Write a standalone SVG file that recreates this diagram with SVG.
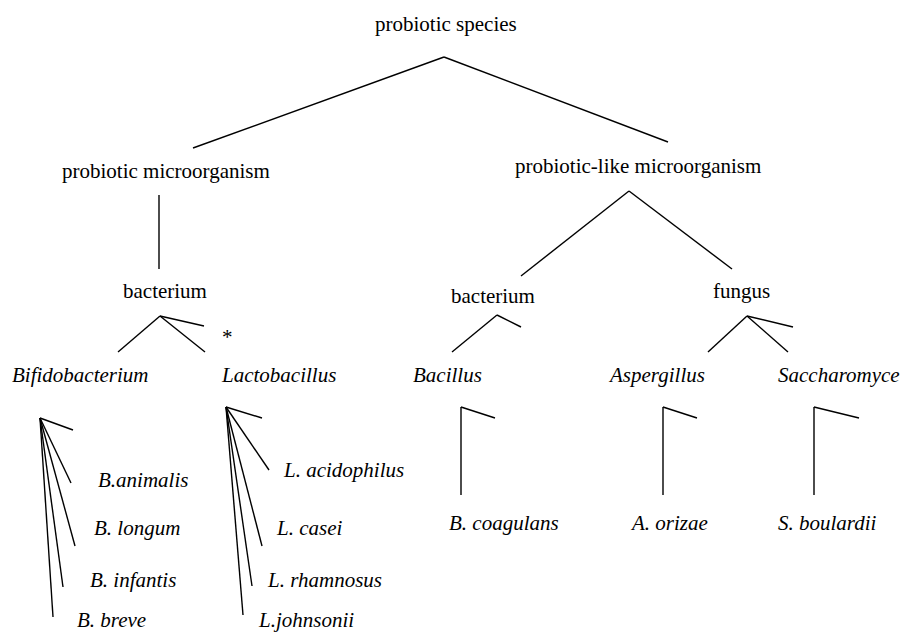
<svg xmlns="http://www.w3.org/2000/svg" width="903" height="633" viewBox="0 0 903 633">
<style>
text{font-family:"Times New Roman","Liberation Serif",Tinos,serif;font-size:21px;fill:#000}
.it{font-style:italic}
.c line{stroke:#000;stroke-width:1.4;stroke-linecap:butt}
</style>
<rect width="903" height="633" fill="#fff"/>
<g class="c" id="connectors">
<line x1="444" y1="57" x2="193" y2="148"/>
<line x1="444" y1="57" x2="668" y2="142"/>
<line x1="159" y1="195" x2="159" y2="269"/>
<line x1="629" y1="191" x2="521" y2="276"/>
<line x1="629" y1="191" x2="732" y2="269"/>
<line x1="160" y1="316" x2="118" y2="352"/>
<line x1="160" y1="316" x2="205" y2="352"/>
<line x1="160" y1="316" x2="204" y2="326"/>
<line x1="497" y1="315" x2="452" y2="352"/>
<line x1="497" y1="315" x2="521" y2="327"/>
<line x1="747" y1="316" x2="708" y2="352"/>
<line x1="747" y1="316" x2="788" y2="352"/>
<line x1="747" y1="316" x2="793" y2="327"/>
<line x1="40" y1="418" x2="73" y2="430"/>
<line x1="40" y1="418" x2="71" y2="483"/>
<line x1="40" y1="418" x2="75" y2="546"/>
<line x1="40" y1="418" x2="63" y2="587"/>
<line x1="40" y1="418" x2="53" y2="617"/>
<line x1="226" y1="407" x2="262" y2="418"/>
<line x1="226" y1="407" x2="269" y2="470"/>
<line x1="226" y1="407" x2="262" y2="546"/>
<line x1="226" y1="407" x2="252" y2="586"/>
<line x1="226" y1="407" x2="243" y2="615"/>
<line x1="461" y1="407" x2="461" y2="495"/>
<line x1="461" y1="407" x2="495" y2="418"/>
<line x1="663" y1="407" x2="663" y2="495"/>
<line x1="663" y1="407" x2="697" y2="418"/>
<line x1="814" y1="407" x2="814" y2="495"/>
<line x1="814" y1="407" x2="859" y2="418"/>
</g>
<g id="root"><text x="375" y="31">probiotic species</text></g>
<g id="probiotic-microorganism"><text x="62" y="178">probiotic microorganism</text></g>
<g id="probiotic-like-microorganism"><text x="515" y="173">probiotic-like microorganism</text></g>
<g id="bacterium-left"><text x="123" y="298">bacterium</text></g>
<g id="bacterium-right"><text x="451" y="303">bacterium</text></g>
<g id="fungus"><text x="713" y="298">fungus</text></g>
<g id="asterisk"><text x="222" y="344">*</text></g>
<g id="bifidobacterium"><text class="it" x="12" y="382">Bifidobacterium</text></g>
<g id="lactobacillus"><text class="it" x="222" y="382">Lactobacillus</text></g>
<g id="bacillus"><text class="it" x="413" y="382">Bacillus</text></g>
<g id="aspergillus"><text class="it" x="610" y="382">Aspergillus</text></g>
<g id="saccharomyce"><text class="it" x="778" y="382">Saccharomyce</text></g>
<g id="b-animalis"><text class="it" x="98" y="487">B.animalis</text></g>
<g id="b-longum"><text class="it" x="94" y="535">B. longum</text></g>
<g id="b-infantis"><text class="it" x="90" y="587">B. infantis</text></g>
<g id="b-breve"><text class="it" x="77" y="627">B. breve</text></g>
<g id="l-acidophilus"><text class="it" x="284" y="477">L. acidophilus</text></g>
<g id="l-casei"><text class="it" x="277" y="535">L. casei</text></g>
<g id="l-rhamnosus"><text class="it" x="268" y="587">L. rhamnosus</text></g>
<g id="l-johnsonii"><text class="it" x="259" y="627">L.johnsonii</text></g>
<g id="b-coagulans"><text class="it" x="449" y="530">B. coagulans</text></g>
<g id="a-orizae"><text class="it" x="632" y="530">A. orizae</text></g>
<g id="s-boulardii"><text class="it" x="778" y="530">S. boulardii</text></g>
</svg>
